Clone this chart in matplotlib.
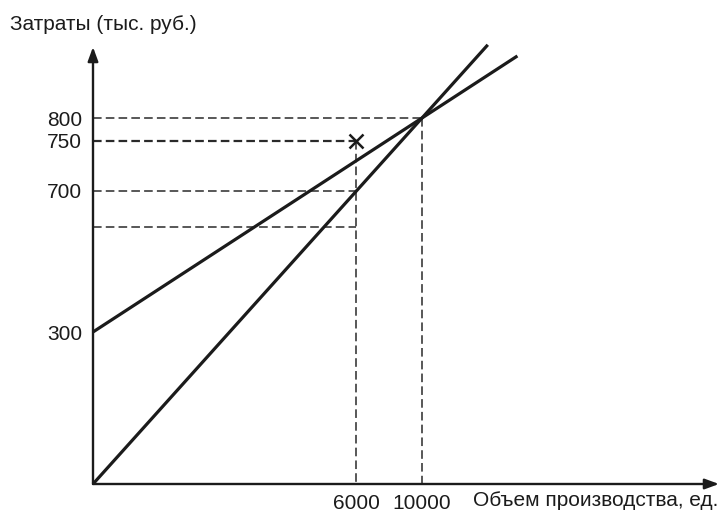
"""Break-even schematic: fixed + variable costs vs. revenue (not to scale)."""
import numpy as np
import matplotlib
matplotlib.use("Agg")
import matplotlib.pyplot as plt

# --- data -------------------------------------------------------------
x_ticks = [6000, 10000]
x_tick_labels = ["6000", "10000"]
y_ticks = [300, 700, 750, 800]
y_tick_labels = ["300", "700", "750", "800"]

fixed_cost = 300
breakeven_volume = 10000
breakeven_value = 800
plan_volume = 6000
plan_target = 750      # the cross
plan_revenue = 700
plan_low = 600         # unlabelled dashed level

# --- schematic (non-proportional) scale: value -> distance from origin, px
x_anchor_vals = [0, 6000, 10000]
x_anchor_pos = [0, 263, 329]
y_anchor_vals = [0, 300, 600, 700, 750, 800]
y_anchor_pos = [0, 152, 257, 293, 343, 366]


def piecewise(src, dst):
    src = np.asarray(src, float)
    dst = np.asarray(dst, float)
    lo = (dst[1] - dst[0]) / (src[1] - src[0])
    hi = (dst[-1] - dst[-2]) / (src[-1] - src[-2])

    def f(v):
        v = np.asarray(v, float)
        out = np.interp(v, src, dst)
        out = np.where(v < src[0], dst[0] + (v - src[0]) * lo, out)
        out = np.where(v > src[-1], dst[-1] + (v - src[-1]) * hi, out)
        return out
    return f


fx, ix = piecewise(x_anchor_vals, x_anchor_pos), piecewise(x_anchor_pos, x_anchor_vals)
fy, iy = piecewise(y_anchor_vals, y_anchor_pos), piecewise(y_anchor_pos, y_anchor_vals)


def extend(p0, p1, k):
    """Point k times as far from p0 as p1, measured on screen."""
    a = np.array([fx(p0[0]), fy(p0[1])])
    b = np.array([fx(p1[0]), fy(p1[1])])
    e = a + k * (b - a)
    return float(ix(e[0])), float(iy(e[1]))


plt.rcParams["font.family"] = ["Liberation Sans", "DejaVu Sans"]
plt.rcParams["font.size"] = 15
plt.rcParams["lines.scale_dashes"] = False

W, H = 721, 512
ox, oy = 93, 484          # origin in image px
fig = plt.figure(figsize=(W / 100, H / 100), dpi=100)
ax = fig.add_axes([ox / W, (H - oy) / H, (W - 2 - ox) / W, (oy - 47) / H])
ax.set_xscale("function", functions=(fx, ix))
ax.set_yscale("function", functions=(fy, iy))
ax.set_xlim(0, float(ix(W - 2 - ox)))
ax.set_ylim(0, float(iy(oy - 47)))
for s in ax.spines.values():
    s.set_visible(False)
ax.patch.set_visible(False)

ink = "#1b1b1b"
dash = dict(color="#2a2a2a", lw=1.1, dashes=(6.2, 3.0), clip_on=False)

# guide lines
ax.plot([0, breakeven_volume], [breakeven_value] * 2, **dash)
ax.plot([breakeven_volume] * 2, [breakeven_value, 0], **dash)
ax.plot([0, plan_volume], [plan_target] * 2, **{**dash, "lw": 1.6})
ax.plot([0, plan_volume], [plan_revenue] * 2, **dash)
ax.plot([0, plan_volume], [plan_low] * 2, **dash)
ax.plot([plan_volume] * 2, [plan_target, 0], **dash)

# cost and revenue lines
ce = extend((0, fixed_cost), (breakeven_volume, breakeven_value), 1.29)
re = extend((0, 0), (breakeven_volume, breakeven_value), 1.2)
ax.plot([0, breakeven_volume, ce[0]], [fixed_cost, breakeven_value, ce[1]],
        color=ink, lw=2.3, solid_capstyle="butt", clip_on=False)
ax.plot([0, breakeven_volume, re[0]], [0, breakeven_value, re[1]],
        color=ink, lw=2.3, solid_capstyle="butt", clip_on=False)

ax.plot([plan_volume], [plan_target], marker="x", ms=10, mew=1.8, color=ink,
        clip_on=False)

# axes with arrows
arr = dict(arrowstyle="-|>,head_length=0.6,head_width=0.22", color=ink, lw=1.7,
           mutation_scale=14, shrinkA=0, shrinkB=0)
ax.annotate("", xy=(1, 0), xycoords=("axes fraction", "data"),
            xytext=(0, 0), textcoords="data", arrowprops=arr)
ax.annotate("", xy=(0, 1), xycoords=("data", "axes fraction"),
            xytext=(0, 0), textcoords="data", arrowprops=arr)

ax.set_xticks(x_ticks, labels=x_tick_labels)
ax.set_yticks(y_ticks, labels=y_tick_labels)
ax.minorticks_off()
ax.tick_params(length=0, colors=ink)
ax.tick_params(axis="y", pad=8)
ax.tick_params(axis="x", pad=7)

fig.text(10 / W, 1 - 25 / H, "Затраты (тыс. руб.)", ha="left", va="center",
         color=ink)
fig.text(1 - 3 / W, 1 - 500 / H, "Объем производства, ед.", ha="right",
         va="center", color=ink)

fig.savefig("out.png", dpi=100, facecolor="white")
